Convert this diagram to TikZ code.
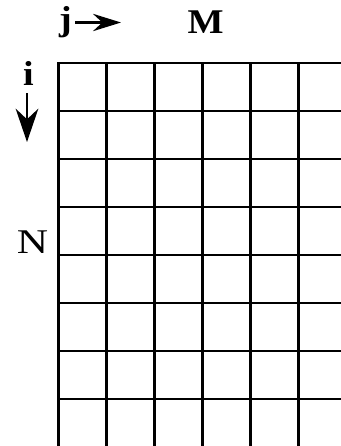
\documentclass[tikz,border=0pt]{standalone}
\usepackage{fontspec}
\setmainfont{Liberation Serif}
\usetikzlibrary{arrows.meta}
\tikzset{
  lbl/.style={anchor=base, inner sep=0pt, font=\fontsize{26}{30}\selectfont},
  gridline/.style={line width=1.8pt, black},
  dirline/.style={line width=1.6pt},
}
\begin{document}
\begin{tikzpicture}[x=0.75pt, y=-0.75pt]
\useasboundingbox (0,0) rectangle (341,446);
\begin{scope}
\clip (0,0) rectangle (341,446);
\foreach \c in {58.5,106.5,154.5,202.5,250.5,298.5}
  \draw[gridline] (\c,63) -- (\c,450);
\foreach \r in {63,111,159,207,255,303,351,399}
  \draw[gridline] (58.5-1.2,\r) -- (345,\r);
\end{scope}
\node[lbl, xscale=1.1] (j) at (65.5,31) {\textbf{j}};
\node[lbl, xscale=1.1] (M) at (205.5,33) {\textbf{M}};
\node[lbl, xscale=1.1] (i) at (28.5,85) {\textbf{i}};
\node[lbl, xscale=1.25] (N) at (32.5,253) {N};
\coordinate (jr) at (121,22.5);
\coordinate (jl) at (75,22.5);
\coordinate (iu) at (27,93);
\coordinate (id) at (27,142);
\draw[dirline, -{Stealth[length=21pt,width=13pt,inset=7pt]}] (jl) -- (jr);
\draw[dirline, -{Stealth[length=25pt,width=17pt,inset=8pt]}] (iu) -- (id);
\end{tikzpicture}
\end{document}
